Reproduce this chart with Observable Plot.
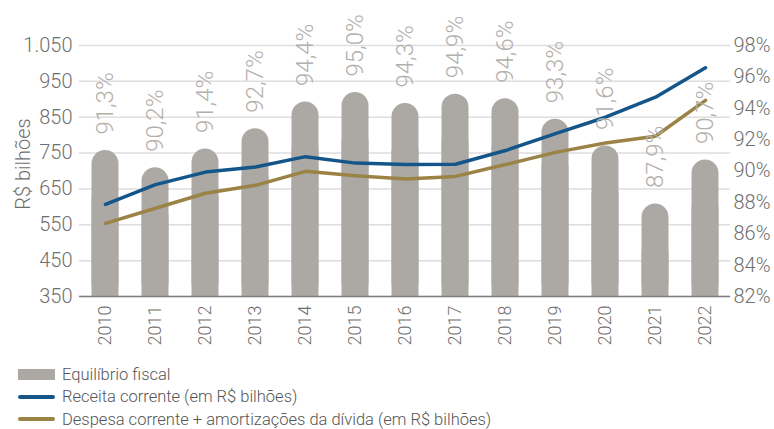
<!DOCTYPE html>
<html>
<head>
<meta charset="utf-8">
<script src="https://cdn.jsdelivr.net/npm/d3@7"></script>
<script src="https://cdn.jsdelivr.net/npm/@observablehq/plot@0.6"></script>
<style>
  html, body { margin: 0; padding: 0; background: #fff; }
  body { font-family: Roboto, "Noto Sans", sans-serif; font-weight: 300; }
  #legend { margin-left: 18px; margin-top: 3px; color: #555; font-size: 16.5px; }
  .row { display: flex; align-items: center; height: 22.5px; }
  .sw { width: 37px; margin-right: 7px; }
</style>
</head>
<body>
<div id="chart"></div>
<div id="legend"></div>
<script>
const years = ["2010","2011","2012","2013","2014","2015","2016","2017","2018","2019","2020","2021","2022"];
const equilibrio = [91.3, 90.2, 91.4, 92.7, 94.4, 95.0, 94.3, 94.9, 94.6, 93.3, 91.6, 87.9, 90.7];
const receita = [607, 662, 697, 711, 740, 722, 718, 719, 757, 804, 850, 906, 988];
const despesa = [554, 596, 638, 660, 699, 687, 678, 685, 718, 752, 778, 797, 897];
const leftTicks = [350, 450, 550, 650, 750, 850, 950, 1050];
const rightTicks = [82, 84, 86, 88, 90, 92, 94, 96, 98];
const yLabel = "R$ bilhões";
const seriesNames = ["Equilíbrio fiscal", "Receita corrente (em R$ bilhões)", "Despesa corrente + amortizações da dívida (em R$ bilhões)"];
const colors = ["#aca9a4", "#15568a", "#9b8346"];

// map right axis (percent) onto left axis units
const p2v = p => 350 + (p - 82) * 700 / 16;
const v2p = v => 82 + (v - 350) * 16 / 700;

const bars = years.map((y, i) => ({year: y, p: equilibrio[i]}));
const lines = years.flatMap((y, i) => [
  {year: y, v: receita[i], s: seriesNames[1]},
  {year: y, v: despesa[i], s: seriesNames[2]}
]);

const fmtLeft = d => d >= 1000 ? d3.format(",")(d).replace(",", ".") : String(d);

const chart = Plot.plot({
  width: 774,
  height: 360,
  marginLeft: 79,
  marginRight: 44,
  marginTop: 45,
  marginBottom: 64,
  style: {fontFamily: "Roboto, 'Noto Sans', sans-serif", fontWeight: 300, background: "#fff"},
  x: {domain: years, padding: 0},
  y: {domain: [350, 1050]},
  marks: [
    Plot.gridY(leftTicks, {stroke: "#dedede", strokeOpacity: 1, strokeWidth: 1.5}),
    Plot.barY(bars, {x: "year", y1: 350, y2: d => p2v(d.p), fill: colors[0], insetLeft: 11.5, insetRight: 11.5, rx: 13.5}),
    Plot.barY(bars, {x: "year", y1: 350, y2: d => p2v(d.p - 3), fill: colors[0], insetLeft: 11.5, insetRight: 11.5}),
    Plot.ruleY([350], {stroke: "#7f7f7f", strokeWidth: 1.5}),
    Plot.line(lines, {x: "year", y: "v", z: "s", stroke: d => d.s, strokeWidth: 3.5}),
    Plot.text(bars, {x: "year", y: d => p2v(d.p), text: d => d3.format(".1f")(d.p).replace(".", ",") + "%", rotate: -90, textAnchor: "start", dy: -16, fontSize: 24, fill: "#b3b0ac"}),
    Plot.axisY(leftTicks, {anchor: "left", tickSize: 0, tickPadding: 7, tickFormat: fmtLeft, fontSize: 20, color: "#6f6f6f", label: null}),
    Plot.text([yLabel], {frameAnchor: "left", textAnchor: "middle", dx: -56, dy: -7, rotate: -90, fontSize: 20, fill: "#6f6f6f", text: d => d}),
    Plot.axisY(rightTicks.map(p2v), {anchor: "right", tickSize: 0, tickPadding: 3, tickFormat: v => Math.round(v2p(v)) + "%", fontSize: 20, color: "#6f6f6f", label: null}),
    Plot.axisX({anchor: "bottom", tickSize: 0, tickPadding: 9, tickRotate: -90, fontSize: 18, color: "#6f6f6f", label: null})
  ],
  color: {domain: seriesNames.slice(1), range: colors.slice(1)}
});
document.getElementById("chart").appendChild(chart);

const legend = document.getElementById("legend");
seriesNames.forEach((name, i) => {
  const row = document.createElement("div");
  row.className = "row";
  const sw = document.createElement("div");
  sw.className = "sw";
  if (i === 0) { sw.style.height = "11px"; sw.style.background = colors[0]; }
  else { sw.style.height = "4px"; sw.style.borderRadius = "2px"; sw.style.background = colors[i]; }
  const t = document.createElement("span");
  t.textContent = name;
  row.appendChild(sw);
  row.appendChild(t);
  legend.appendChild(row);
});
</script>
</body>
</html>
